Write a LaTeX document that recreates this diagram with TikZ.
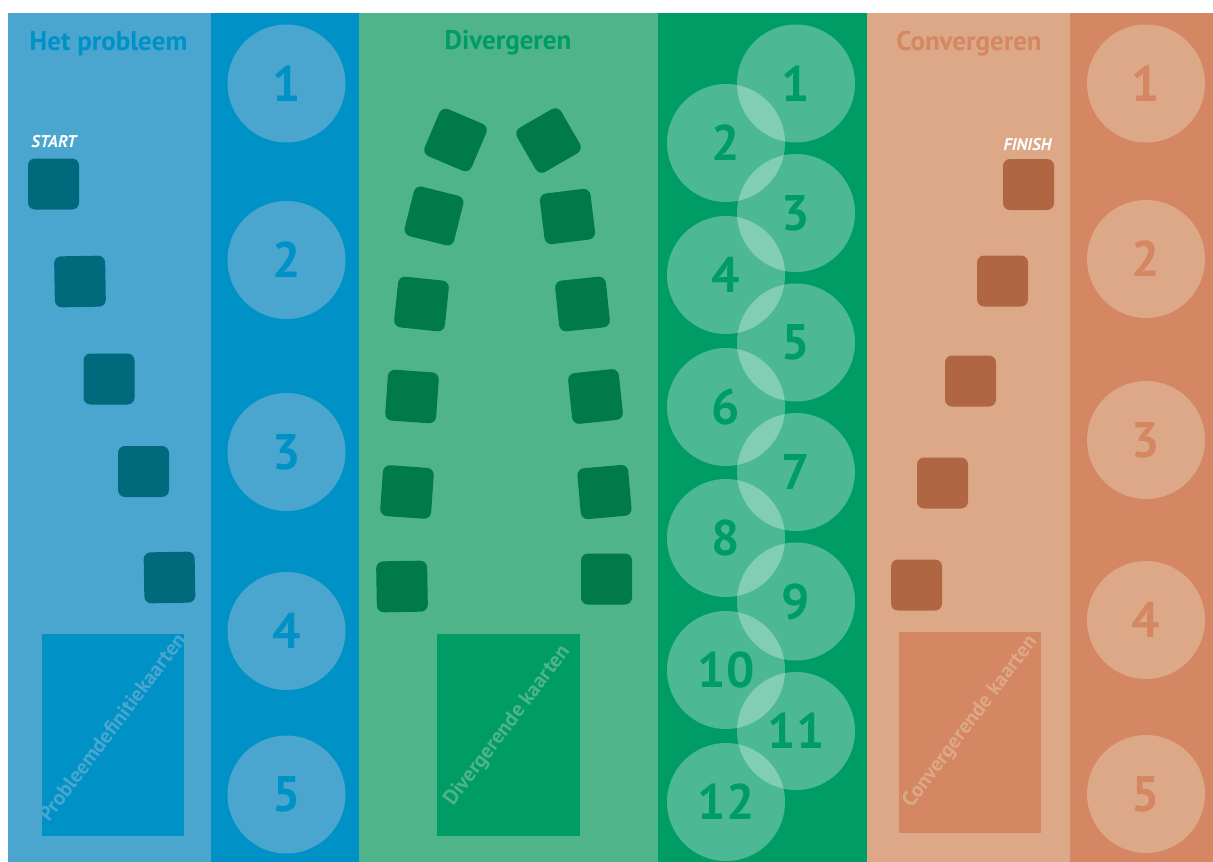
\documentclass[tikz,border=0pt]{standalone}
\usepackage{fontspec}
\setmainfont{PT Sans}
\usepackage{tikz}
\definecolor{skyblue}{HTML}{4BA6CF}
\definecolor{deepblue}{HTML}{0091C6}
\definecolor{tealsq}{HTML}{006A7C}
\definecolor{mintgreen}{HTML}{50B48B}
\definecolor{deepgreen}{HTML}{009C66}
\definecolor{forestsq}{HTML}{00794B}
\definecolor{peach}{HTML}{DCA887}
\definecolor{terra}{HTML}{D48762}
\definecolor{rustsq}{HTML}{B06643}

\begin{document}
\begin{tikzpicture}[x=1pt,y=-1pt,
  numdisc/.style={circle,minimum size=118pt,inner sep=0pt,font=\fontsize{50}{50}\selectfont\bfseries},
  glassdisc/.style={numdisc,fill=white,fill opacity=0.3,text opacity=1},
  tile/.style={rounded corners=7pt,minimum size=51pt,inner sep=0pt},
  heading/.style={font=\fontsize{27}{27}\selectfont\bfseries,anchor=base},
  tag/.style={text=white,font=\fontsize{17}{17}\selectfont\bfseries\itshape,anchor=base},
  cardlabel/.style={font=\fontsize{21}{21}\selectfont\bfseries,rotate=53,inner sep=0pt}]
\useasboundingbox (0,0) rectangle (1213,862);
\fill[skyblue] (8,13) rectangle (211,862);
\fill[deepblue] (211,13) rectangle (359,862);
\fill[mintgreen] (359,13) rectangle (658,862);
\fill[deepgreen] (658,13) rectangle (866.5,862);
\fill[peach] (866.5,13) rectangle (1069.5,862);
\fill[terra] (1069.5,13) rectangle (1213,862);
\node[heading,text=deepblue] (probtitle) at (108.5,50) {Het probleem};
\node[heading,text=deepgreen] (divtitle) at (508,49) {Divergeren};
\node[heading,text=terra] (convtitle) at (969,50) {Convergeren};
\node[tag] (start) at (54,147) {START};
\node[tag] (finish) at (1027.5,150) {FINISH};
\foreach \x/\y/\r [count=\i] in {53.5/184/0,80/281.5/1,109/379/0,143.5/471.5/0,169.5/577.5/1}
  \node[tile,fill=tealsq,rotate=\r] (ptile\i) at (\x,\y) {};
\foreach \x/\y/\r [count=\i] in {455.5/140/-23,434/216/-14,421.5/304/-6,412/396.5/-4,407/492/-4,402/586.5/1}
  \node[tile,fill=forestsq,rotate=\r] (dleft\i) at (\x,\y) {};
\foreach \x/\y/\r [count=\i] in {548.5/140.5/30,567.5/216.5/7,582.5/304/6,595.5/396.5/6,604.5/492/5,606.5/579/0}
  \node[tile,fill=forestsq,rotate=\r] (dright\i) at (\x,\y) {};
\foreach \x/\y [count=\i] in {1028.5/184.5,1002.5/281,970.5/381,942.5/483,916.5/585}
  \node[tile,fill=rustsq] (ctile\i) at (\x,\y) {};
\fill[deepblue] (41.5,634) rectangle (184,835.5);
\fill[deepgreen] (437,634) rectangle (580,835.5);
\fill[terra] (899,632) rectangle (1041,833);
\node[cardlabel,text=skyblue] (pdeck) at (112,727) {Probleemdefinitiekaarten};
\node[cardlabel,text=mintgreen] (ddeck) at (507.5,726) {Divergerende kaarten};
\node[cardlabel,text=peach] (cdeck) at (970.5,722) {Convergerende kaarten};
\foreach \y [count=\i] in {83.5,260,452,631,794.5}
  \node[numdisc,fill=skyblue,text=deepblue] (pstep\i) at (286.5,\y) {\i};
\foreach \x/\y [count=\i] in {796/83.5,726/143,796/213,726/275,796/342.5,726/407,796/472,726/538,796/601.5,726/670,796/731,726/802}
  \node[glassdisc,text=deepgreen] (dstep\i) at (\x,\y) {\i};
\foreach \y [count=\i] in {83.5,259,440,620,794}
  \node[numdisc,fill=peach,text=terra] (cstep\i) at (1146,\y) {\i};
\end{tikzpicture}
\end{document}
